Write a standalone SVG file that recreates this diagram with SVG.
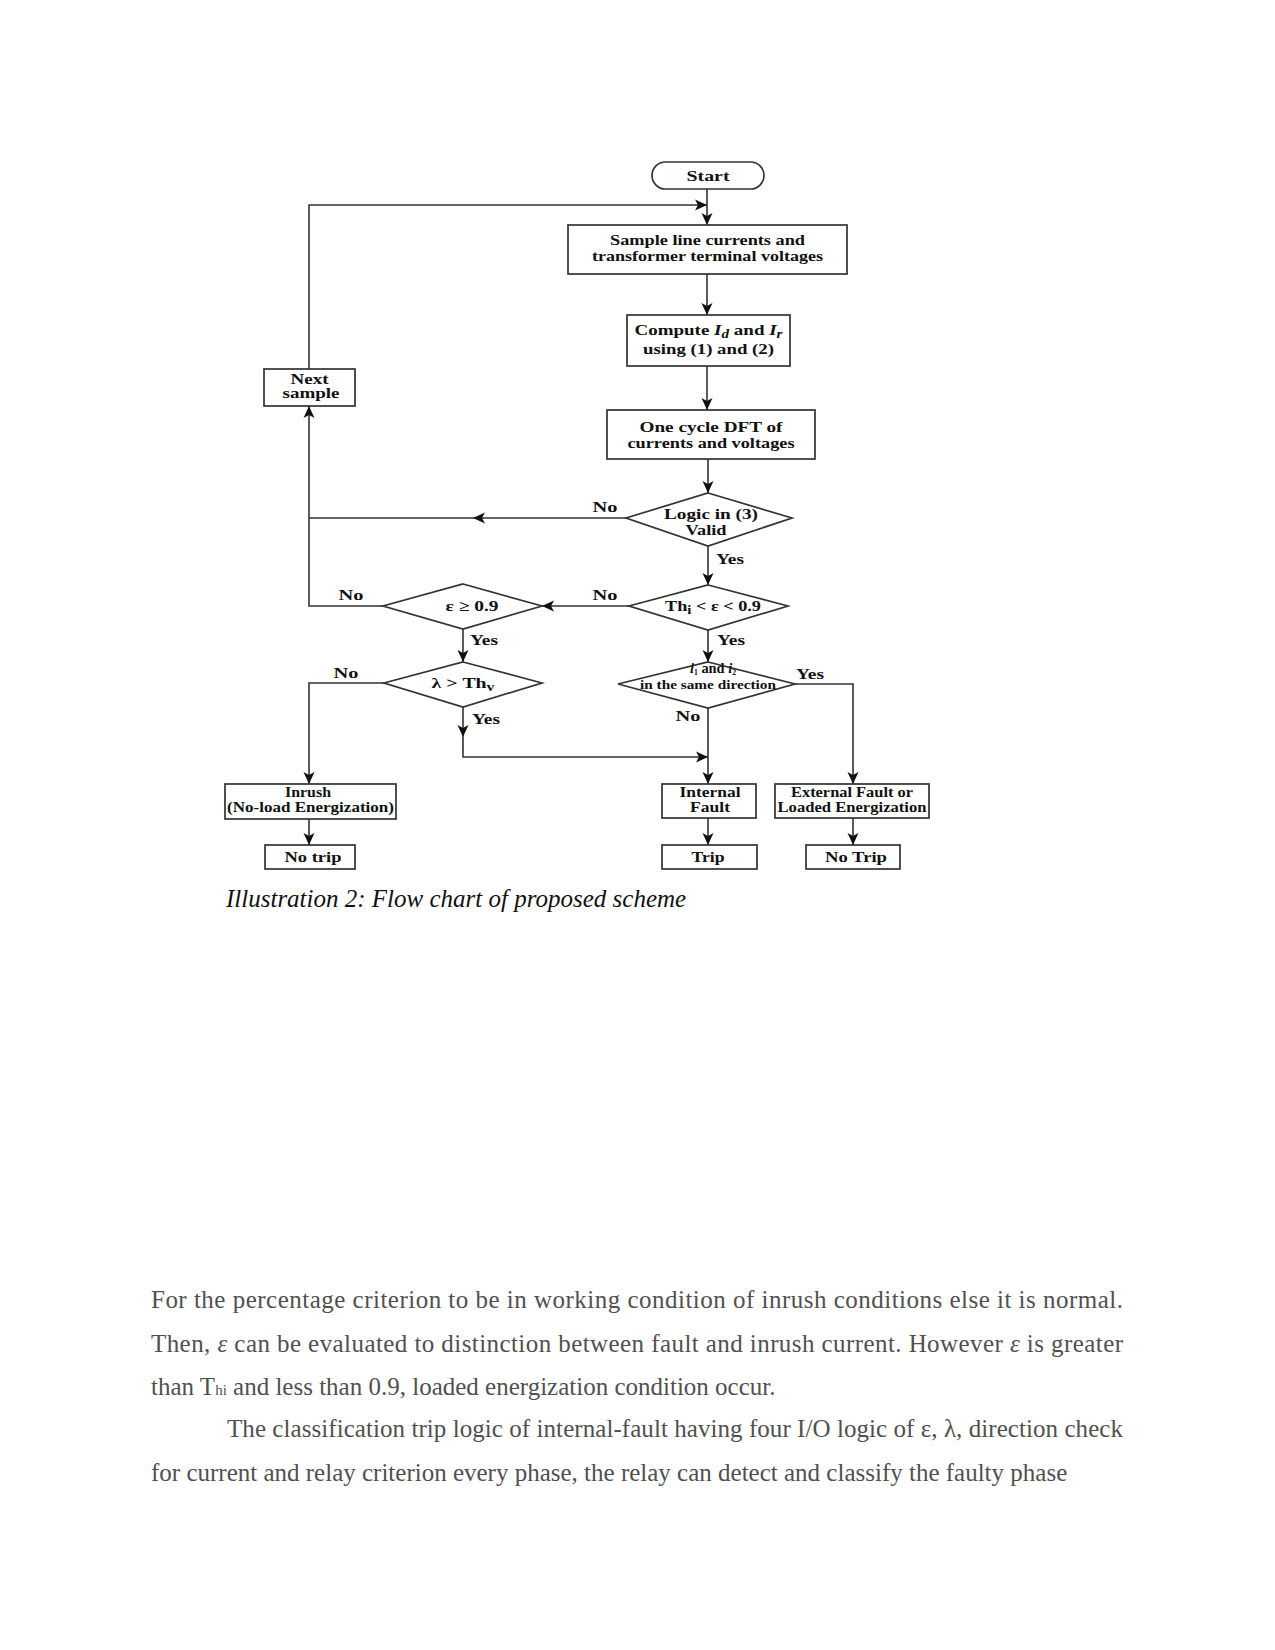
<svg xmlns="http://www.w3.org/2000/svg" width="1275" height="1650" viewBox="0 0 1275 1650">
<defs>
<marker id="ah" markerUnits="userSpaceOnUse" markerWidth="12" markerHeight="12" viewBox="0 0 12 12" refX="12" refY="6" orient="auto">
<path d="M0,0.5 L12,6 L0,11.5 L3,6 Z" fill="#111"/>
</marker>
<style>
.box{fill:#fff;stroke:#333;stroke-width:1.7}
.ln{fill:none;stroke:#333;stroke-width:1.6}
.ar{fill:none;stroke:#333;stroke-width:1.6;marker-end:url(#ah)}
.t{font-family:"Liberation Serif","Times New Roman",serif;font-weight:bold;font-size:15px;fill:#111;text-anchor:middle}
.s{font-size:12px}
.lb{font-family:"Liberation Serif","Times New Roman",serif;font-weight:bold;font-size:15px;fill:#111;text-anchor:middle}
.body{font-family:"Liberation Serif","Times New Roman",serif;font-size:25px;fill:#505050}
.cap{font-family:"Liberation Serif","Times New Roman",serif;font-style:italic;font-size:25px;fill:#111}
</style>
</defs>
<rect width="1275" height="1650" fill="#fff"/>

<g id="connectors">
<path class="ar" d="M707,189 V225"/>
<path class="ar" d="M309,369 V205 H707"/>
<path class="ar" d="M707,274 V315"/>
<path class="ar" d="M707,366 V410"/>
<path class="ar" d="M708,459 V493"/>
<path class="ar" d="M626,518 H473"/>
<path class="ln" d="M473,518 H309"/>
<path class="ar" d="M708,546 V585"/>
<path class="ar" d="M629,606 H542"/>
<path class="ar" d="M383,606 H309 V406"/>
<path class="ar" d="M463,629 V662"/>
<path class="ar" d="M384,683 H309 V784"/>
<path class="ar" d="M463,707 V737"/>
<path class="ar" d="M463,737 V757 H708"/>
<path class="ar" d="M708,630 V662"/>
<path class="ar" d="M708,708 V784"/>
<path class="ar" d="M795,684 H853 V784"/>
<path class="ar" d="M309,819 V845"/>
<path class="ar" d="M708,818 V845"/>
<path class="ar" d="M853,818 V845"/>
<text class="lb" x="605" y="512" textLength="25" lengthAdjust="spacingAndGlyphs">No</text>
<text class="lb" x="730" y="564" textLength="28" lengthAdjust="spacingAndGlyphs">Yes</text>
<text class="lb" x="605" y="600" textLength="25" lengthAdjust="spacingAndGlyphs">No</text>
<text class="lb" x="351" y="600" textLength="25" lengthAdjust="spacingAndGlyphs">No</text>
<text class="lb" x="484" y="645" textLength="28" lengthAdjust="spacingAndGlyphs">Yes</text>
<text class="lb" x="731" y="645" textLength="28" lengthAdjust="spacingAndGlyphs">Yes</text>
<text class="lb" x="346" y="678" textLength="25" lengthAdjust="spacingAndGlyphs">No</text>
<text class="lb" x="810" y="679" textLength="28" lengthAdjust="spacingAndGlyphs">Yes</text>
<text class="lb" x="486" y="724" textLength="28" lengthAdjust="spacingAndGlyphs">Yes</text>
<text class="lb" x="688" y="721" textLength="25" lengthAdjust="spacingAndGlyphs">No</text>
</g>

<g id="start">
<rect class="box" x="652" y="162" width="112" height="27" rx="13.5" ry="13.5"/>
<text class="t" x="708" y="181" font-size="16" textLength="43" lengthAdjust="spacingAndGlyphs">Start</text>
</g>
<g id="sample">
<rect class="box" x="568" y="225" width="279" height="49"/>
<text class="t" x="707.5" y="245" textLength="195" lengthAdjust="spacingAndGlyphs">Sample line currents and</text>
<text class="t" x="707.5" y="261" textLength="231" lengthAdjust="spacingAndGlyphs">transformer terminal voltages</text>
</g>
<g id="compute">
<rect class="box" x="627" y="315" width="163" height="51"/>
<text class="t" x="708.5" y="335" textLength="148" lengthAdjust="spacingAndGlyphs">Compute <tspan font-style="italic">I</tspan><tspan font-style="italic" font-size="12" dy="3">d</tspan><tspan dy="-3"> and </tspan><tspan font-style="italic">I</tspan><tspan font-style="italic" font-size="12" dy="3">r</tspan></text>
<text class="t" x="708.5" y="354" textLength="131" lengthAdjust="spacingAndGlyphs">using (1) and (2)</text>
</g>
<g id="dft">
<rect class="box" x="607" y="410" width="208" height="49"/>
<text class="t" x="711" y="432" textLength="143" lengthAdjust="spacingAndGlyphs">One cycle DFT of</text>
<text class="t" x="711" y="448" textLength="167" lengthAdjust="spacingAndGlyphs">currents and voltages</text>
</g>
<g id="next">
<rect class="box" x="264" y="369" width="91" height="37"/>
<text class="t" x="309.5" y="384" textLength="38" lengthAdjust="spacingAndGlyphs">Next</text>
<text class="t" x="311" y="398" textLength="57" lengthAdjust="spacingAndGlyphs">sample</text>
</g>
<g id="logic">
<polygon class="box" points="708,493 792,518 708,546 626,518"/>
<text class="t" x="711" y="519" textLength="94" lengthAdjust="spacingAndGlyphs">Logic in (3)</text>
<text class="t" x="706" y="535" textLength="41" lengthAdjust="spacingAndGlyphs">Valid</text>
</g>
<g id="thi">
<polygon class="box" points="708,585 788,606 708,630 629,606"/>
<text class="t" x="713" y="611" textLength="96" lengthAdjust="spacingAndGlyphs">Th<tspan font-size="12" dy="3">i</tspan><tspan dy="-3"> &lt; ε &lt; 0.9</tspan></text>
</g>
<g id="eps">
<polygon class="box" points="463,584 542,606 463,629 383,606"/>
<text class="t" x="472" y="611" textLength="53" lengthAdjust="spacingAndGlyphs">ε ≥ 0.9</text>
</g>
<g id="lambda">
<polygon class="box" points="463,662 542,683 463,707 384,683"/>
<text class="t" x="463" y="688" textLength="63" lengthAdjust="spacingAndGlyphs">λ &gt; Th<tspan font-size="12" dy="3">v</tspan></text>
</g>
<g id="direction">
<polygon class="box" points="708,662 795,684 708,708 618,684"/>
<text class="t" x="713" y="673" font-size="11" textLength="46" lengthAdjust="spacingAndGlyphs"><tspan font-style="italic">i</tspan><tspan font-size="8" dy="1.5">1</tspan><tspan dy="-1.5"> and </tspan><tspan font-style="italic">i</tspan><tspan font-size="8" dy="1.5">2</tspan></text>
<text class="t s" x="708" y="689" textLength="136" lengthAdjust="spacingAndGlyphs">in the same direction</text>
</g>
<g id="inrush">
<rect class="box" x="225" y="784" width="171" height="35"/>
<text class="t" x="308" y="797" textLength="46" lengthAdjust="spacingAndGlyphs">Inrush</text>
<text class="t" x="310.5" y="812" textLength="167" lengthAdjust="spacingAndGlyphs">(No-load Energization)</text>
</g>
<g id="internal">
<rect class="box" x="662" y="784" width="94" height="34"/>
<text class="t" x="710" y="797" textLength="61" lengthAdjust="spacingAndGlyphs">Internal</text>
<text class="t" x="710" y="812" textLength="40" lengthAdjust="spacingAndGlyphs">Fault</text>
</g>
<g id="external">
<rect class="box" x="775" y="784" width="154" height="34"/>
<text class="t" x="852" y="797" textLength="122" lengthAdjust="spacingAndGlyphs">External Fault or</text>
<text class="t" x="852" y="812" textLength="149" lengthAdjust="spacingAndGlyphs">Loaded Energization</text>
</g>
<g id="notrip1">
<rect class="box" x="265" y="845" width="90" height="24"/>
<text class="t" x="313" y="862" textLength="57" lengthAdjust="spacingAndGlyphs">No trip</text>
</g>
<g id="trip">
<rect class="box" x="662" y="845" width="95" height="24"/>
<text class="t" x="708" y="862" textLength="33" lengthAdjust="spacingAndGlyphs">Trip</text>
</g>
<g id="notrip2">
<rect class="box" x="806" y="845" width="94" height="24"/>
<text class="t" x="856" y="862" textLength="62" lengthAdjust="spacingAndGlyphs">No Trip</text>
</g>

<text class="cap" x="226" y="907">Illustration 2: Flow chart of proposed scheme</text>

<text class="body" x="151" y="1308" textLength="972" lengthAdjust="spacing">For the percentage criterion to be in working condition of inrush conditions else it is normal.</text>
<text class="body" x="151" y="1352" textLength="972" lengthAdjust="spacing">Then, <tspan font-style="italic">ε</tspan> can be evaluated to distinction between fault and inrush current. However <tspan font-style="italic">ε</tspan> is greater</text>
<text class="body" x="151" y="1395">than T<tspan font-size="15">hi</tspan> and less than 0.9, loaded energization condition occur.</text>
<text class="body" x="227" y="1437" textLength="896" lengthAdjust="spacing">The classification trip logic of internal-fault having four I/O logic of ε, λ, direction check</text>
<text class="body" x="151" y="1481">for current and relay criterion every phase, the relay can detect and classify the faulty phase</text>
</svg>
